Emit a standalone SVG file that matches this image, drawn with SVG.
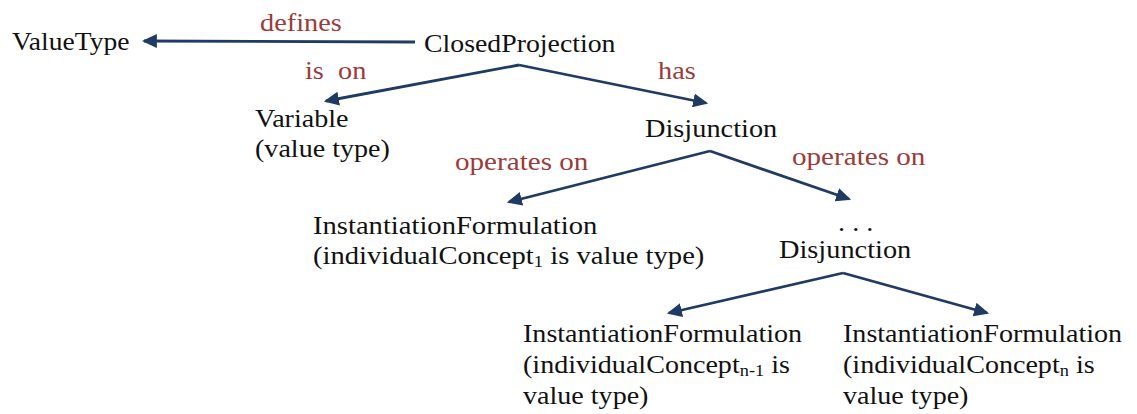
<svg xmlns="http://www.w3.org/2000/svg" width="1137" height="414" viewBox="0 0 1137 414">
  <style>
    text { font-family: "Liberation Serif", "Times New Roman", serif; font-size: 26px; }
    .node { fill: #111; }
    .lbl { fill: #9b3b3a; }
    .sub { font-size: 17px; }
    .edge { fill: none; stroke: #1f3a63; stroke-width: 2.8; marker-end: url(#head); }
  </style>
  <defs>
    <marker id="head" markerWidth="5.4" markerHeight="5" refX="4.6" refY="2.5" orient="auto" markerUnits="strokeWidth">
      <path d="M0,0 L5.4,2.5 L0,5 Z" fill="#1f3a63"/>
    </marker>
  </defs>
  <rect width="1137" height="414" fill="#fff"/>

  <g id="connectors">
    <path class="edge" d="M415,42 L144,41"/>
    <path class="edge" d="M519,65 L326,101"/>
    <path class="edge" d="M519,65 L706,103"/>
    <path class="edge" d="M710,151 L509,202"/>
    <path class="edge" d="M710,151 L849,199"/>
    <path class="edge" d="M843,273 L669,313"/>
    <path class="edge" d="M843,273 L987,313"/>
  </g>

  <!-- labels use a slight horizontal stretch to get the wide serif proportions -->
  <g id="edge-labels">
    <text class="lbl" transform="translate(260 31) scale(1.09 1)">defines</text>
    <text class="lbl" transform="translate(305 79) scale(1.09 1)" xml:space="preserve">is  on</text>
    <text class="lbl" transform="translate(658 79) scale(1.09 1)">has</text>
    <text class="lbl" transform="translate(455 170) scale(1.12 1)">operates on</text>
    <text class="lbl" transform="translate(792 165) scale(1.12 1)">operates on</text>
  </g>

  <g id="node-valuetype">
    <text class="node" transform="translate(12 50) scale(1.06 1)">ValueType</text>
  </g>
  <g id="node-closedprojection">
    <text class="node" transform="translate(424 52) scale(1.07 1)">ClosedProjection</text>
  </g>
  <g id="node-variable">
    <text class="node" transform="translate(255 127) scale(1.08 1)">Variable</text>
    <text class="node" transform="translate(255 157) scale(1.08 1)">(value type)</text>
  </g>
  <g id="node-disjunction">
    <text class="node" transform="translate(645 137) scale(1.09 1)">Disjunction</text>
  </g>
  <g id="node-instantiation-1">
    <text class="node" transform="translate(313 234) scale(1.1 1)">InstantiationFormulation</text>
    <text class="node" transform="translate(313 264) scale(1.1 1)">(individualConcept<tspan class="sub" dy="3">1</tspan><tspan dy="-3"> is value type)</tspan></text>
  </g>
  <g id="node-disjunction-n">
    <text class="node" transform="translate(838 231) scale(1.09 1)">. . .</text>
    <text class="node" transform="translate(779 258) scale(1.09 1)">Disjunction</text>
  </g>
  <g id="node-instantiation-n-1">
    <text class="node" transform="translate(523 342) scale(1.08 1)">InstantiationFormulation</text>
    <text class="node" transform="translate(523 373) scale(1.08 1)">(individualConcept<tspan class="sub" dy="3">n-1</tspan><tspan dy="-3"> is</tspan></text>
    <text class="node" transform="translate(523 404) scale(1.08 1)">value type)</text>
  </g>
  <g id="node-instantiation-n">
    <text class="node" transform="translate(843 342) scale(1.08 1)">InstantiationFormulation</text>
    <text class="node" transform="translate(843 373) scale(1.08 1)">(individualConcept<tspan class="sub" dy="3">n</tspan><tspan dy="-3"> is</tspan></text>
    <text class="node" transform="translate(843 404) scale(1.08 1)">value type)</text>
  </g>
</svg>
